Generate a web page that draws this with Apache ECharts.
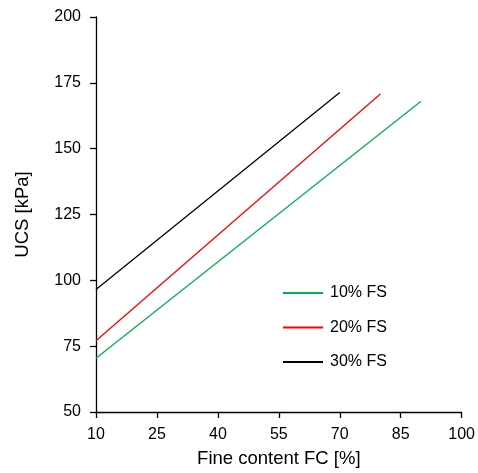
<!DOCTYPE html>
<html>
<head>
<meta charset="utf-8">
<script src="https://cdn.jsdelivr.net/npm/echarts@6/dist/echarts.min.js"></script>
<style>
  html, body { margin: 0; padding: 0; background: #fff; }
  #chart { width: 478px; height: 473px; }
</style>
</head>
<body>
<div id="chart"></div>
<script>
// 数据：细粒含量 FC 与 UCS 的线性关系（端点）
const fs10 = [[10, 70.4], [90, 168]];
const fs20 = [[10, 77.1], [80, 170.8]];
const fs30 = [[10, 96.5], [70, 171.3]];
const seriesNames = ['10% FS', '20% FS', '30% FS'];
const seriesColors = ['#00b050', '#ff0000', '#000000'];

const chart = echarts.init(document.getElementById('chart'));

const font = 'Liberation Sans, Arial, sans-serif';

const axisCommon = {
  axisLine: { lineStyle: { color: '#000', width: 1.3 } },
  axisTick: { inside: false, length: 6, lineStyle: { color: '#000', width: 1.3 } },
  axisLabel: { color: '#000', fontSize: 16, fontFamily: font },
  splitLine: { show: false },
  nameTextStyle: { color: '#000', fontSize: 18.5, fontFamily: font }
};

const option = {
  animation: false,
  grid: { left: 96, right: 16, top: 17, bottom: 58 },
  legend: {
    orient: 'vertical',
    left: 278,
    top: 280,
    icon: 'rect',
    itemWidth: 40,
    itemHeight: 2,
    itemGap: 18.5,
    textStyle: { color: '#000', fontSize: 16, fontFamily: font, padding: [0, 0, 0, 2] },
    data: seriesNames
  },
  xAxis: Object.assign({}, axisCommon, {
    type: 'value',
    min: 10,
    max: 100,
    interval: 15,
    name: 'Fine content FC [%]',
    nameLocation: 'middle',
    nameGap: 37,
    axisLabel: Object.assign({}, axisCommon.axisLabel, { margin: 15 })
  }),
  yAxis: Object.assign({}, axisCommon, {
    type: 'value',
    min: 50,
    max: 200,
    interval: 25,
    name: 'UCS [kPa]',
    nameLocation: 'middle',
    nameGap: 64,
    axisLabel: Object.assign({}, axisCommon.axisLabel, { margin: 15 })
  }),
  series: [fs10, fs20, fs30].map((d, i) => ({
    name: seriesNames[i],
    type: 'line',
    data: d,
    symbol: 'none',
    lineStyle: { color: seriesColors[i], width: 1.3 },
    itemStyle: { color: seriesColors[i] }
  }))
};

chart.setOption(option);
</script>
</body>
</html>
